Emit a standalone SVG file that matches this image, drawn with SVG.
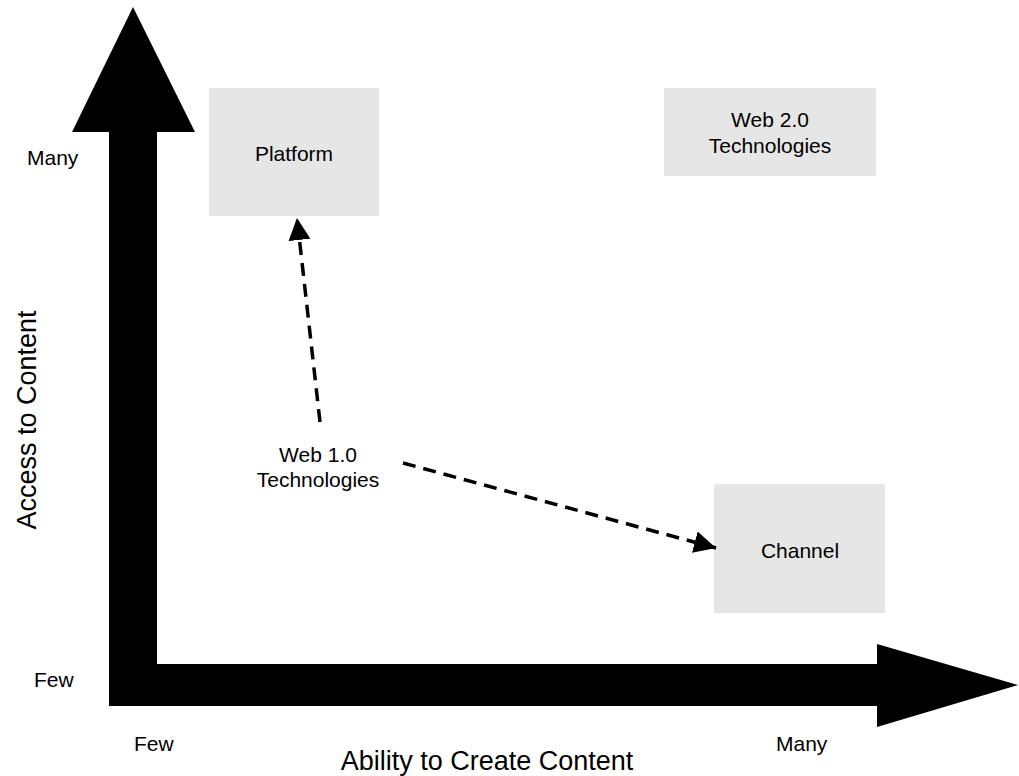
<svg xmlns="http://www.w3.org/2000/svg" width="1019" height="776" viewBox="0 0 1019 776">
<style>
text{font-family:"Liberation Sans",Arial,Helvetica,sans-serif;fill:#000}
.lbl{font-size:21px}
.ax{font-size:27px}
.node rect{fill:#e6e6e6}
.node text{font-size:21px;text-anchor:middle}
.dash{fill:none;stroke:#000;stroke-width:3.5;stroke-dasharray:13 8}
</style>
<defs>
<marker id="ah" markerUnits="userSpaceOnUse" markerWidth="24" markerHeight="24" viewBox="0 0 24 24" refX="22" refY="12" orient="auto">
<path d="M0,1 L22,12 L0,23 Z" fill="#000"/>
</marker>
</defs>
<rect width="1019" height="776" fill="#fff"/>
<g id="axes">
<polygon points="109,706 109,132 72,132 133,7 195,132 157,132 157,664 877,664 877,644 1018,685 877,727 877,706" fill="#000"/>
</g>
<g id="axis-labels">
<text class="lbl" x="27" y="165">Many</text>
<text class="lbl" x="34" y="687">Few</text>
<text class="lbl" x="134" y="751">Few</text>
<text class="lbl" x="776" y="751">Many</text>
<text class="ax" x="487" y="770" text-anchor="middle">Ability to Create Content</text>
<text class="ax" transform="translate(36,420) rotate(-90)" text-anchor="middle">Access to Content</text>
</g>
<g id="node-platform" class="node">
<rect x="209" y="88" width="170" height="128"/>
<text x="294" y="161">Platform</text>
</g>
<g id="node-web2" class="node">
<rect x="664" y="88" width="212" height="88"/>
<text x="770" y="127">Web 2.0</text>
<text x="770" y="153">Technologies</text>
</g>
<g id="node-channel" class="node">
<rect x="714" y="484" width="171" height="129"/>
<text x="800" y="558">Channel</text>
</g>
<g id="node-web1" class="node">
<text x="318" y="462">Web 1.0</text>
<text x="318" y="487">Technologies</text>
</g>
<g id="connectors">
<line class="dash" x1="320" y1="422" x2="297" y2="218" marker-end="url(#ah)"/>
<line class="dash" x1="403" y1="463" x2="716" y2="548" marker-end="url(#ah)"/>
</g>
</svg>
